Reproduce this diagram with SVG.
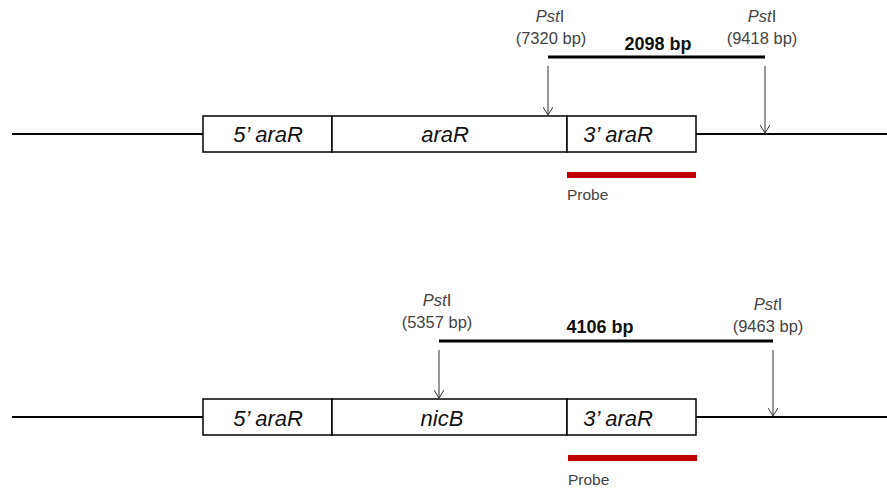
<svg xmlns="http://www.w3.org/2000/svg" width="887" height="492" viewBox="0 0 887 492">
<style>
.dna{stroke:#000;stroke-width:2;fill:none}
.box{fill:#fff;stroke:#000;stroke-width:1.5}
.gene{font-family:"Liberation Sans",Arial,sans-serif;font-style:italic;font-size:22px;fill:#111;text-anchor:middle}
.site{font-family:"Liberation Sans",Arial,sans-serif;font-size:16.5px;fill:#444;text-anchor:middle}
.len{font-family:"Liberation Sans",Arial,sans-serif;font-weight:bold;font-size:18px;fill:#111;text-anchor:middle}
.frag{stroke:#000;stroke-width:3}
.cut{stroke:#333;stroke-width:1}
.probe{stroke:#c00000;stroke-width:6}
.plab{font-family:"Liberation Sans",Arial,sans-serif;font-size:15.5px;fill:#444}
</style>
<defs>
<marker id="ah" viewBox="0 0 10 10" refX="9" refY="5" markerWidth="10" markerHeight="10" markerUnits="userSpaceOnUse" orient="auto">
<path d="M1,0 L9,5 L1,10" fill="none" stroke="#333" stroke-width="1"/>
</marker>
</defs>
<g id="top">
<g id="top-dna"><line class="dna" x1="12" y1="134" x2="203" y2="134"/><line class="dna" x1="696" y1="134" x2="887" y2="134"/></g>
<g id="top-5araR"><rect class="box" x="203" y="116" width="129" height="36"/><text class="gene" x="268" y="142">5’ araR</text></g>
<g id="top-araR"><rect class="box" x="332" y="116" width="235" height="36"/><text class="gene" x="445" y="142">araR</text></g>
<g id="top-3araR"><rect class="box" x="567" y="116" width="129" height="36"/><text class="gene" x="618" y="142">3’ araR</text></g>
<g id="top-frag"><line class="frag" x1="548" y1="57" x2="765" y2="57"/><text class="len" x="658" y="50">2098 bp</text></g>
<g id="top-pst1"><text class="site" x="550" y="22"><tspan font-style="italic">Pst</tspan>I</text><text class="site" x="551" y="44">(7320 bp)</text></g>
<g id="top-pst2"><text class="site" x="762" y="22"><tspan font-style="italic">Pst</tspan>I</text><text class="site" x="762" y="44">(9418 bp)</text></g>
<g id="top-probe"><line class="probe" x1="567" y1="175" x2="696" y2="175"/><text class="plab" x="567" y="200">Probe</text></g>
</g>
<g id="bottom">
<g id="bot-dna"><line class="dna" x1="12" y1="417" x2="203" y2="417"/><line class="dna" x1="696" y1="417" x2="887" y2="417"/></g>
<g id="bot-5araR"><rect class="box" x="203" y="399" width="129" height="36"/><text class="gene" x="268" y="426">5’ araR</text></g>
<g id="bot-nicB"><rect class="box" x="332" y="399" width="235" height="36"/><text class="gene" x="442" y="426">nicB</text></g>
<g id="bot-3araR"><rect class="box" x="567" y="399" width="129" height="36"/><text class="gene" x="618" y="426">3’ araR</text></g>
<g id="bot-frag"><line class="frag" x1="439" y1="341" x2="773" y2="341"/><text class="len" x="600" y="333">4106 bp</text></g>
<g id="bot-pst1"><text class="site" x="437" y="306"><tspan font-style="italic">Pst</tspan>I</text><text class="site" x="437" y="328">(5357 bp)</text></g>
<g id="bot-pst2"><text class="site" x="768" y="310"><tspan font-style="italic">Pst</tspan>I</text><text class="site" x="768" y="332">(9463 bp)</text></g>
<g id="bot-probe"><line class="probe" x1="568" y1="458" x2="697" y2="458"/><text class="plab" x="568" y="485">Probe</text></g>
</g>
<g id="connectors">
<line class="cut" x1="548" y1="66" x2="548" y2="115" marker-end="url(#ah)"/>
<line class="cut" x1="765" y1="66" x2="765" y2="133" marker-end="url(#ah)"/>
<line class="cut" x1="439" y1="350" x2="439" y2="398" marker-end="url(#ah)"/>
<line class="cut" x1="773" y1="350" x2="773" y2="416" marker-end="url(#ah)"/>
</g>
</svg>
